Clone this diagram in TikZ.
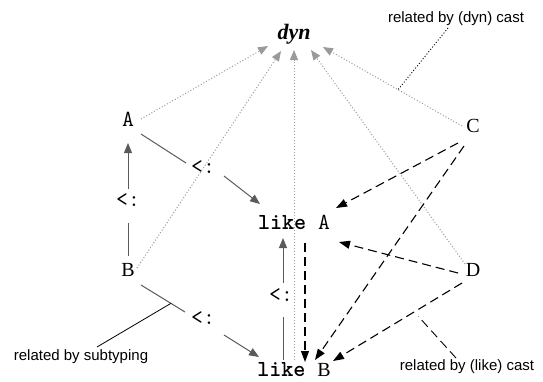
\documentclass[tikz,border=0pt]{standalone}
\usepackage{fontspec}
\newfontfamily\labfont{Liberation Sans}
\newfontfamily\serffont{Liberation Serif}
\usetikzlibrary{arrows.meta}
\definecolor{dotgray}{HTML}{9A9A9A}
\definecolor{subgray}{HTML}{5A5A5A}
\tikzset{
  mono/.style={inner sep=0pt, font=\fontsize{23}{26}\selectfont\ttfamily},
  roman/.style={inner sep=0pt, font=\fontsize{20}{24}\selectfont\serffont},
  subsym/.style={inner sep=0pt, font=\fontsize{23}{26}\selectfont\ttfamily},
  dynlab/.style={inner sep=0pt, font=\fontsize{22}{26}\selectfont\serffont\bfseries\itshape},
  labtext/.style={inner sep=0pt, font=\fontsize{15}{18}\selectfont\labfont},
  tipshape/.style={-{Triangle[length=10pt,width=8pt]}},
  dynarrow/.style={draw=dotgray, line width=1pt, dash pattern=on 1pt off 2pt, tipshape},
  subline/.style={draw=subgray, line width=1pt},
  subarrow/.style={subline, tipshape},
  castarrow/.style={draw=black, line width=1.1pt, dash pattern=on 9pt off 5pt, -{Triangle[length=11pt,width=8pt]}},
  notedot/.style={draw=black, line width=0.9pt, dash pattern=on 1pt off 2pt},
  notesolid/.style={draw=black, line width=0.8pt},
  notedash/.style={draw=black, line width=0.9pt, dash pattern=on 9pt off 5pt},
}
\begin{document}
\begin{tikzpicture}[x=1pt,y=-1pt]
\useasboundingbox (0,0) rectangle (543,381);
% nodes
\node[dynlab] (dyn) at (294,34) {dyn};
\node[mono] (A) at (128,119) {A};
\node[roman] (B) at (128,270) {B};
\node[roman] (C) at (473,126) {C};
\node[roman] (D) at (473,270) {D};
\node[mono] (likeA) at (294,222) {\textbf{like} A};
\node[mono] (likeB) at (294,370) {\textbf{like} {\fontsize{20}{24}\selectfont\serffont B}};
\node[subsym] (s1) at (128,200) {<:};
\node[subsym] (s2) at (203,167) {<:};
\node[subsym] (s3) at (203,318) {<:};
\node[subsym] (s4) at (281,295) {<:};
\node[labtext] (ldyn) at (456,19) {related by (dyn) cast};
\node[labtext] (lsub) at (81,357) {related by subtyping};
\node[labtext] (llike) at (467,367) {related by (like) cast};
% to dyn
\draw[dynarrow] ([shift={(13,0)}]A.center) -- ([shift={(-26,12)}]dyn.center);
\draw[dynarrow] ([shift={(9,-2)}]B.center) -- ([shift={(-13,17)}]dyn.center);
\draw[dynarrow] ([shift={(0,-10)}]likeB.center) -- ([shift={(0,16)}]dyn.center);
\draw[dynarrow] ([shift={(-8,-6)}]D.center) -- ([shift={(17,16)}]dyn.center);
\draw[dynarrow] ([shift={(-11,0)}]C.center) -- coordinate[pos=0.46] (cdyn) ([shift={(29,13)}]dyn.center);
% subtyping
\draw[subline] ([shift={(0,-14)}]B.center) -- ([shift={(0,23)}]s1.center);
\draw[subarrow] ([shift={(0,-11)}]s1.center) -- ([shift={(0,24)}]A.center);
\draw[subline] ([shift={(13,15)}]A.center) -- ([shift={(-17,-4)}]s2.center);
\draw[subarrow] ([shift={(21,9)}]s2.center) -- ([shift={(-34,-18)}]likeA.center);
\draw[subline] ([shift={(13,15)}]B.center) -- coordinate[pos=0.68] (bsub) ([shift={(-18,-6)}]s3.center);
\draw[subarrow] ([shift={(21,17)}]s3.center) -- ([shift={(-35,-13)}]likeB.center);
\draw[subline] ([shift={(-11,-10)}]likeB.center) -- ([shift={(2,22)}]s4.center);
\draw[subarrow] ([shift={(2,-12)}]s4.center) -- ([shift={(-11,16)}]likeA.center);
% casts
\draw[castarrow] ([shift={(-15,17)}]C.center) -- ([shift={(42,-14)}]likeA.center);
\draw[castarrow] ([shift={(-9,20)}]C.center) -- ([shift={(21,-10)}]likeB.center);
\draw[castarrow] ([shift={(-15,3)}]D.center) -- ([shift={(45,20)}]likeA.center);
\draw[castarrow] ([shift={(-11,13)}]D.center) -- coordinate[pos=0.37] (dlike) ([shift={(39,-9)}]likeB.center);
\draw[castarrow] ([shift={(11,21)}]likeA.center) -- ([shift={(11,-8)}]likeB.center);
% notes
\draw[notedot] ([shift={(-8,9)}]ldyn.center) -- (cdyn);
\draw[notesolid] ([shift={(16,-10)}]lsub.center) -- (bsub);
\draw[notedash, shorten >=6pt] ([shift={(-11,-9)}]llike.center) -- (dlike);
\end{tikzpicture}
\end{document}
